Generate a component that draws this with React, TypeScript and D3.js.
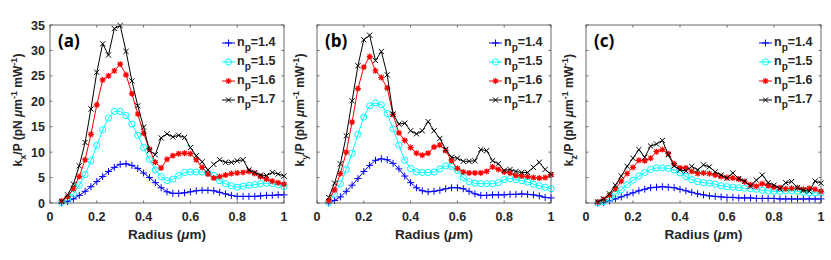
import React from "react";
import * as d3 from "d3";

const radius: number[] = [
  0.05, 0.075, 0.1, 0.125, 0.15, 0.175, 0.2, 0.225, 0.25, 0.275, 0.3, 0.325, 0.35, 0.375, 0.4,
  0.425, 0.45, 0.475, 0.5, 0.525, 0.55, 0.575, 0.6, 0.625, 0.65, 0.675, 0.7, 0.725, 0.75, 0.775,
  0.8, 0.825, 0.85, 0.875, 0.9, 0.925, 0.95, 0.975, 1.0,
];

const seriesNames = ["1.4", "1.5", "1.6", "1.7"];

// Panel (a) kx/P
const kx14 = [0.0, 0.3, 0.8, 1.5, 2.3, 3.2, 4.2, 5.2, 6.2, 7.0, 7.6, 7.7, 7.4, 6.8, 5.9, 5.0, 4.0, 3.0, 2.2, 1.9, 1.9, 2.0, 2.2, 2.4, 2.5, 2.5, 2.4, 2.1, 1.8, 1.5, 1.3, 1.3, 1.3, 1.3, 1.4, 1.5, 1.5, 1.6, 1.6];
const kx15 = [0.1, 0.6, 1.8, 3.5, 5.6, 8.3, 11.3, 14.4, 16.7, 18.0, 18.0, 17.2, 15.5, 13.3, 10.9, 8.6, 6.5, 5.2, 4.4, 4.7, 5.4, 6.0, 6.1, 6.1, 6.1, 5.9, 5.4, 4.4, 3.8, 3.4, 3.1, 3.3, 3.5, 3.6, 3.8, 3.9, 3.8, 3.6, 3.2];
const kx16 = [0.4, 1.2, 2.8, 5.2, 8.5, 13.5, 19.3, 24.2, 25.0, 26.0, 27.3, 25.2, 21.5, 17.5, 13.7, 10.6, 8.0, 6.9, 8.6, 9.3, 9.7, 9.8, 9.7, 8.5, 7.0, 5.7, 4.9, 5.2, 5.5, 5.8, 5.9, 6.0, 6.2, 5.8, 5.2, 4.7, 4.3, 4.0, 3.7];
const kx17 = [0.3, 1.6, 3.7, 7.3, 11.9, 18.5, 25.7, 31.3, 29.1, 34.3, 34.9, 29.8, 24.0, 19.1, 14.9, 10.3, 9.5, 12.8, 13.6, 13.0, 13.3, 12.9, 10.9, 9.3, 8.1, 6.5, 7.6, 8.5, 8.0, 8.0, 8.3, 8.5, 6.5, 6.0, 5.5, 5.4, 6.0, 5.7, 5.3];

// Panel (b) ky/P
const ky14 = [0.0, 0.5, 1.2, 2.3, 3.5, 4.8, 6.2, 7.4, 8.4, 8.7, 8.5, 7.8, 6.7, 5.3, 4.0, 3.0, 2.4, 2.2, 2.3, 2.5, 2.8, 3.0, 3.0, 2.8, 2.3, 1.8, 1.5, 1.5, 1.6, 1.6, 1.6, 1.7, 1.7, 1.8, 1.7, 1.6, 1.4, 1.1, 1.0];
const ky15 = [0.1, 1.7, 3.8, 6.6, 9.8, 13.5, 16.9, 19.1, 19.7, 19.3, 17.6, 14.6, 11.4, 8.4, 6.8, 6.1, 6.0, 6.0, 6.1, 6.7, 7.3, 7.2, 6.4, 5.0, 4.2, 3.9, 3.8, 3.8, 3.8, 4.0, 4.6, 4.8, 4.6, 4.4, 4.1, 3.7, 3.4, 3.1, 2.8];
const ky16 = [0.4, 2.6, 5.8, 10.0, 15.9, 22.5, 26.7, 28.8, 26.0, 24.7, 22.6, 17.4, 13.8, 12.3, 10.9, 9.8, 9.4, 9.8, 11.0, 11.4, 10.3, 8.3, 6.8, 6.1, 5.9, 5.9, 5.9, 6.2, 7.1, 6.6, 6.1, 5.9, 5.4, 5.3, 5.2, 5.0, 4.9, 5.0, 5.6];
const ky17 = [1.1, 3.9, 7.7, 13.2, 20.1, 27.0, 32.1, 33.0, 28.0, 29.8, 25.2, 17.5, 15.5, 15.7, 14.2, 13.6, 14.2, 16.0, 14.2, 12.7, 10.5, 9.0, 8.8, 8.2, 8.2, 8.3, 10.5, 10.3, 8.3, 7.7, 6.4, 6.6, 6.2, 6.0, 6.0, 7.0, 8.0, 6.6, 5.6];

// Panel (c) kz/P
const kz14 = [0.0, 0.1, 0.4, 0.8, 1.2, 1.6, 2.0, 2.4, 2.7, 3.0, 3.1, 3.2, 3.1, 3.0, 2.7, 2.4, 2.1, 1.8, 1.6, 1.4, 1.3, 1.2, 1.1, 1.1, 1.0, 1.0, 1.0, 0.9, 0.9, 0.9, 0.9, 0.8, 0.8, 0.8, 0.8, 0.8, 0.8, 0.8, 0.8];
const kz15 = [0.0, 0.3, 0.9, 1.7, 2.6, 3.6, 4.5, 5.3, 6.0, 6.6, 6.9, 6.9, 6.8, 6.5, 5.9, 5.2, 4.6, 4.2, 4.0, 3.9, 3.7, 3.4, 3.2, 3.1, 3.0, 2.9, 2.8, 2.7, 2.5, 2.4, 2.3, 2.3, 2.4, 2.4, 2.3, 2.1, 2.0, 2.0, 2.0];
const kz16 = [0.2, 0.7, 1.5, 2.8, 4.3, 5.8, 7.0, 8.4, 8.3, 8.8, 10.1, 10.5, 9.7, 7.7, 6.9, 6.9, 6.2, 5.8, 5.9, 5.8, 5.5, 5.2, 5.0, 4.9, 4.7, 4.2, 3.6, 3.3, 3.8, 3.4, 3.1, 3.0, 2.8, 2.9, 3.0, 2.7, 2.9, 2.7, 2.3];
const kz17 = [0.2, 0.8, 1.8, 3.5, 5.3, 7.2, 8.8, 10.5, 9.0, 11.2, 11.6, 12.3, 9.5, 7.3, 6.5, 6.3, 7.2, 6.5, 7.5, 7.1, 6.1, 5.5, 4.9, 5.9, 4.8, 4.3, 3.3, 4.5, 5.5, 4.0, 3.5, 2.8, 4.0, 4.2, 3.0, 2.5, 2.3, 4.3, 3.9];

const xTicks = [0, 0.2, 0.4, 0.6, 0.8, 1];
const yTicks = [0, 5, 10, 15, 20, 25, 30, 35];
const panelLabels = ["(a)", "(b)", "(c)"];
const axisSubs = ["x", "y", "z"];

const colors = ["#0000ff", "#00ffff", "#ff0000", "#000000"];
const markers = ["plus", "circle", "star", "cross"];

const panels = [
  { x0: 50, x1: 284, data: [kx14, kx15, kx16, kx17], yLabels: true },
  { x0: 317, x1: 551, data: [ky14, ky15, ky16, ky17], yLabels: false },
  { x0: 586, x1: 821, data: [kz14, kz15, kz16, kz17], yLabels: false },
];

const TOP = 25;
const BOTTOM = 203;
const FONT = "'Liberation Sans', Arial, sans-serif";
const TXT = "#262626";

function Marker({ type, x, y, color }: { type: string; x: number; y: number; color: string }) {
  if (type === "plus") {
    const h = 3.5;
    return <path d={`M${x - h},${y}H${x + h}M${x},${y - h}V${y + h}`} stroke={color} strokeWidth={1} fill="none" />;
  }
  if (type === "circle") {
    return <circle cx={x} cy={y} r={3.1} stroke={color} strokeWidth={1} fill="none" />;
  }
  if (type === "star") {
    const h = 3;
    const d2 = 2.2;
    return (
      <g>
        <path
          d={`M${x - h},${y}H${x + h}M${x},${y - h}V${y + h}M${x - d2},${y - d2}L${x + d2},${y + d2}M${x - d2},${y + d2}L${x + d2},${y - d2}`}
          stroke={color}
          strokeWidth={1.2}
          fill="none"
        />
        <circle cx={x} cy={y} r={1.6} fill={color} />
      </g>
    );
  }
  const h = 2.6;
  return <path d={`M${x - h},${y - h}L${x + h},${y + h}M${x - h},${y + h}L${x + h},${y - h}`} stroke={color} strokeWidth={1} fill="none" />;
}

function Panel({ idx }: { idx: number }) {
  const p = panels[idx];
  const x = d3.scaleLinear().domain([0, 1]).range([p.x0, p.x1]);
  const y = d3.scaleLinear().domain([0, 35]).range([BOTTOM, TOP]);
  const line = d3
    .line<number>()
    .x((_, i) => x(radius[i]))
    .y((d) => y(d));
  const cx = (p.x0 + p.x1) / 2;
  const labelX = p.x0 - (idx === 0 ? 28 : 13);
  return (
    <g>
      {p.data.map((s, si) => (
        <g key={si}>
          <path d={line(s) || ""} fill="none" stroke={colors[si]} strokeWidth={1} />
          {s.map((v, i) => (
            <Marker key={i} type={markers[si]} x={x(radius[i])} y={y(v)} color={colors[si]} />
          ))}
        </g>
      ))}
      <rect x={p.x0} y={TOP} width={p.x1 - p.x0} height={BOTTOM - TOP} fill="none" stroke="#5a5a5a" strokeWidth={0.9} />
      {xTicks.map((t) => (
        <g key={"x" + t}>
          <line x1={x(t)} x2={x(t)} y1={BOTTOM} y2={BOTTOM - 2.5} stroke="#5a5a5a" strokeWidth={0.9} />
          <line x1={x(t)} x2={x(t)} y1={TOP} y2={TOP + 2.5} stroke="#5a5a5a" strokeWidth={0.9} />
          <text x={x(t)} y={221} textAnchor="middle" fontFamily={FONT} fontWeight="bold" fontSize={12.5} fill={TXT}>
            {String(t)}
          </text>
        </g>
      ))}
      {yTicks.map((t) => (
        <g key={"y" + t}>
          <line x1={p.x0} x2={p.x0 + 2.5} y1={y(t)} y2={y(t)} stroke="#5a5a5a" strokeWidth={0.9} />
          <line x1={p.x1} x2={p.x1 - 2.5} y1={y(t)} y2={y(t)} stroke="#5a5a5a" strokeWidth={0.9} />
          {p.yLabels && (
            <text x={p.x0 - 5} y={y(t) + 4.5} textAnchor="end" fontFamily={FONT} fontWeight="bold" fontSize={12.5} fill={TXT}>
              {String(t)}
            </text>
          )}
        </g>
      ))}
      <text x={cx} y={239} textAnchor="middle" fontFamily={FONT} fontWeight="bold" fontSize={13.5} fill={TXT}>
        Radius (<tspan fontStyle="italic">μ</tspan>m)
      </text>
      <text
        transform={`translate(${labelX},${(TOP + BOTTOM) / 2 - 4}) rotate(-90)`}
        textAnchor="middle"
        fontFamily={FONT}
        fontWeight="bold"
        fontSize={12}
        fill={TXT}
      >
        k<tspan fontSize={9} dy={4}>{axisSubs[idx]}</tspan>
        <tspan dy={-4}>/P (pN </tspan>
        <tspan fontStyle="italic">μ</tspan>
        <tspan>m</tspan>
        <tspan fontSize={9} dy={-5}>-1</tspan>
        <tspan dy={5}> mW</tspan>
        <tspan fontSize={9} dy={-5}>-1</tspan>
        <tspan dy={5}>)</tspan>
      </text>
      <text x={p.x0 + 8} y={47} fontFamily="'Open Sans', 'Liberation Sans', sans-serif" fontWeight="bold" fontSize={17} fill="#000">
        {panelLabels[idx]}
      </text>
      {seriesNames.map((n, si) => {
        const ly = 43 + si * 19;
        const lx0 = p.x1 - 62;
        const lx1 = p.x1 - 49;
        return (
          <g key={"l" + si}>
            <line x1={lx0} x2={lx1} y1={ly} y2={ly} stroke={colors[si]} strokeWidth={1} />
            <Marker type={markers[si]} x={(lx0 + lx1) / 2} y={ly} color={colors[si]} />
            <text x={lx1 + 2} y={ly + 3} fontFamily={FONT} fontWeight="bold" fontSize={12.5} fill={TXT}>
              n<tspan fontSize={10} dy={5}>p</tspan>
              <tspan dy={-5}>={n}</tspan>
            </text>
          </g>
        );
      })}
    </g>
  );
}

export default function App() {
  return (
    <svg
      width={831}
      height={260}
      viewBox="0 0 831 260"
      style={{ position: "absolute", left: 0, top: 0, background: "#fff" }}
    >
      <rect width={831} height={260} fill="#fff" />
      {panels.map((_, i) => (
        <Panel key={i} idx={i} />
      ))}
    </svg>
  );
}
